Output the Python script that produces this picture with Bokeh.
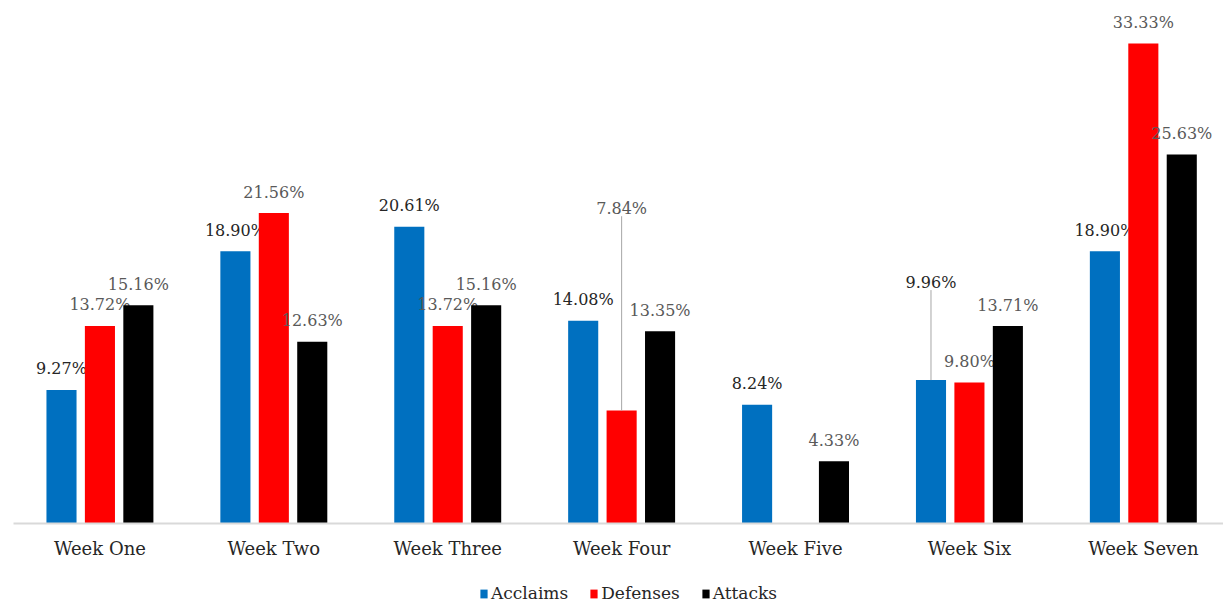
from bokeh.plotting import figure
from bokeh.layouts import column
from bokeh.models import ColumnDataSource, Range1d, FixedTicker, Legend, LegendItem
from bokeh.transform import dodge
from bokeh.core.properties import value
from bokeh.embed import file_html
from bokeh.resources import INLINE

# Share of each kind of statement per week (%)
weeks = ["Week One", "Week Two", "Week Three", "Week Four", "Week Five", "Week Six", "Week Seven"]
series = ["Acclaims", "Defenses", "Attacks"]
acclaims = [9.27, 18.90, 20.61, 14.08, 8.24, 9.96, 18.90]
defenses = [13.72, 21.56, 13.72, 7.84, 0.0, 9.80, 33.33]
attacks = [15.16, 12.63, 15.16, 13.35, 4.33, 13.71, 25.63]

# Styling
bar_colors = ["#0070C0", "#FF0000", "#000000"]
label_colors = ["#262626", "#595959", "#595959"]
bar_offsets = [-0.221, 0.0, 0.221]
bar_width = 0.173
# labels lifted away from crowded spots (in % units), drawn with a leader line
label_lift = [
    [0, 0, 0, 0, 0, 5.35, 0],
    [0, 0, 0, 12.6, 0, 0, 0],
    [0, 0, 0, 0, 0, 0, 0],
]
label_gap = 1.46  # distance from bar top to label centre, in % units

FONT = "DejaVu Serif"

p = figure(
    width=1223, height=573,
    x_range=Range1d(-0.497, 6.461), y_range=Range1d(0, 36.32),
    output_backend="svg", toolbar_location=None,
    y_axis_location=None,
    min_border_left=13, min_border_right=0, min_border_top=0, min_border_bottom=50,
)
p.grid.visible = False
p.outline_line_color = None
p.background_fill_color = "white"
p.border_fill_color = "white"

ax = p.xaxis[0]
ax.ticker = FixedTicker(ticks=list(range(len(weeks))), minor_ticks=[])
ax.major_label_overrides = {i: w for i, w in enumerate(weeks)}
ax.major_tick_line_color = None
ax.minor_tick_line_color = None
ax.major_tick_out = 0
ax.axis_line_color = "#d9d9d9"
ax.axis_line_width = 2
ax.major_label_text_font = FONT
ax.major_label_text_font_size = "18px"
ax.major_label_text_color = "#262626"
ax.major_label_standoff = 14

sources = []
for k, (name, vals) in enumerate(zip(series, [acclaims, defenses, attacks])):
    src = ColumnDataSource(dict(idx=list(range(len(weeks))), val=vals))
    sources.append(src)
    p.vbar(x=dodge("idx", bar_offsets[k], range=p.x_range), top="val",
           width=bar_width, fill_color=bar_colors[k], line_color=None, source=src)

    # value labels (skip empty bars)
    idx = [i for i, v in enumerate(vals) if v > 0]
    lsrc = ColumnDataSource(dict(
        idx=idx,
        ly=[vals[i] + label_gap + label_lift[k][i] for i in idx],
        txt=["%.2f%%" % vals[i] for i in idx],
    ))
    p.text(x=dodge("idx", bar_offsets[k], range=p.x_range), y="ly", text="txt",
           text_font=value(FONT), text_font_size="16px", text_color=label_colors[k],
           text_align="center", text_baseline="middle", source=lsrc)

    # leader lines for lifted labels
    lid = [i for i in idx if label_lift[k][i] > 0]
    if lid:
        seg = ColumnDataSource(dict(
            idx=lid,
            y0=[vals[i] for i in lid],
            y1=[vals[i] + label_lift[k][i] + 0.9 for i in lid],
        ))
        p.segment(x0=dodge("idx", bar_offsets[k], range=p.x_range), y0="y0",
                  x1=dodge("idx", bar_offsets[k], range=p.x_range), y1="y1",
                  line_color="#a6a6a6", line_width=1, source=seg)

# legend strip under the chart; its renderers reuse the series data but sit
# outside this strip's view, so only the legend itself shows
lp = figure(
    width=1223, height=30,
    x_range=Range1d(-20, -19), y_range=Range1d(0, 1),
    output_backend="svg", toolbar_location=None,
    x_axis_location=None, y_axis_location=None,
    min_border=0,
)
lp.grid.visible = False
lp.outline_line_color = None
items = []
for k, name in enumerate(series):
    r = lp.vbar(x="idx", top="val", width=bar_width, fill_color=bar_colors[k],
                line_color=None, source=sources[k])
    items.append(LegendItem(label=name, renderers=[r]))

legend = Legend(items=items, orientation="horizontal", location=(466, 0))
legend.border_line_color = None
legend.background_fill_alpha = 0
legend.glyph_width = 9
legend.glyph_height = 11
legend.label_standoff = 3
legend.spacing = 21
legend.padding = 0
legend.margin = 0
legend.label_text_font = FONT
legend.label_text_font_size = "17px"
legend.label_text_color = "#262626"
lp.add_layout(legend, "center")

open("out.html", "w").write(file_html(column(p, lp, spacing=0), INLINE))
